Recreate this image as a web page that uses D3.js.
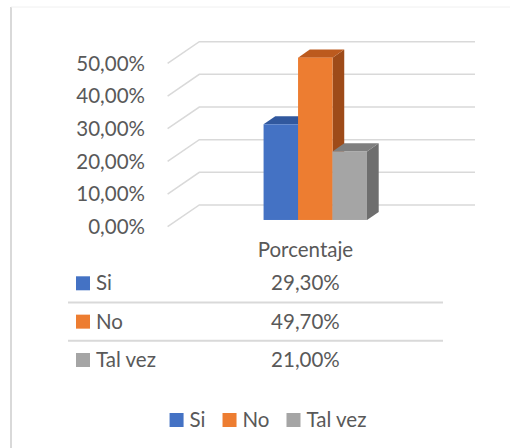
<!DOCTYPE html>
<html>
<head>
<meta charset="utf-8">
<script src="https://cdn.jsdelivr.net/npm/d3@7"></script>
<style>
  body { margin: 0; background: #fff; }
  text { font-family: Lato, "Open Sans", sans-serif; fill: #595959; font-size: 20.5px; }
</style>
</head>
<body>
<div id="chart"></div>
<script>
const categories = ["Porcentaje"];
const series = ["Si", "No", "Tal vez"];
const values = [0.293, 0.497, 0.21];
const colors = ["#4472C4", "#ED7D31", "#A5A5A5"];
const topColors = ["#31589E", "#BC5A1E", "#7F7F7F"];
const sideColors = ["#2D4E8A", "#9E4B19", "#6E6E6E"];
const yTicks = [0, 0.1, 0.2, 0.3, 0.4, 0.5];

const width = 510;
const height = 448;

// depth offset for the 3D floor (back -> front)
const depth = { x: -31.7, y: 21.7 };
const barZ = [0.32, 0.69];

const locale = d3.formatLocale({ decimal: ",", thousands: ".", grouping: [3], currency: ["", "€"] });
const pct = locale.format(".2%");

const svg = d3.select("#chart")
  .append("svg")
  .attr("width", width)
  .attr("height", height);

// chart border
svg.append("line")
  .attr("x1", 11).attr("x2", 11).attr("y1", 7).attr("y2", height)
  .attr("stroke", "#d9d9d9").attr("stroke-width", 2);
svg.append("line")
  .attr("x1", 11).attr("x2", width).attr("y1", 7).attr("y2", 7)
  .attr("stroke", "#f0f0f0").attr("stroke-width", 1);

const xScale = d3.scaleBand()
  .domain(categories)
  .range([199.3, 475])
  .paddingOuter(0.833);

const xSeries = d3.scaleBand()
  .domain(series)
  .range([0, xScale.bandwidth()]);

const yScale = d3.scaleLinear()
  .domain([0, 0.5])
  .range([205, 41.7]);

const proj = (wx, v, z) => [wx + depth.x * z, yScale(v) + depth.y * z];

// gridlines: side diagonal + back wall
const x0 = xScale.range()[0];
const x1 = xScale.range()[1];
svg.append("g")
  .selectAll("path")
  .data(yTicks)
  .join("path")
    .attr("d", t => d3.line()([proj(x0, t, 1), proj(x0, t, 0), proj(x1, t, 0)]))
    .attr("fill", "none")
    .attr("stroke", "#d9d9d9")
    .attr("stroke-width", 1.5);

// y tick labels (front plane)
svg.append("g")
  .selectAll("text")
  .data(yTicks)
  .join("text")
    .attr("x", 145)
    .attr("y", t => proj(x0, t, 1)[1])
    .attr("dy", "0.35em")
    .attr("text-anchor", "end")
    .text(t => pct(t));

// 3D bars
const bars = series.map((s, i) => ({ s, v: values[i], i }));
const barG = svg.append("g");
bars.forEach(d => {
  const bx0 = xScale(categories[0]) + xSeries(d.s);
  const bx1 = bx0 + xSeries.bandwidth();
  const [zb, zf] = barZ;
  const pts = (arr) => arr.map(p => proj(p[0], p[1], p[2]).join(",")).join(" ");
  // side face
  barG.append("polygon")
    .attr("points", pts([[bx1, d.v, zf], [bx1, d.v, zb], [bx1, 0, zb], [bx1, 0, zf]]))
    .attr("fill", sideColors[d.i]);
  // top face
  barG.append("polygon")
    .attr("points", pts([[bx0, d.v, zf], [bx1, d.v, zf], [bx1, d.v, zb], [bx0, d.v, zb]]))
    .attr("fill", topColors[d.i]);
  // front face
  const f0 = proj(bx0, d.v, zf);
  const f1 = proj(bx1, 0, zf);
  barG.append("rect")
    .attr("x", f0[0])
    .attr("y", f0[1])
    .attr("width", f1[0] - f0[0])
    .attr("height", f1[1] - f0[1])
    .attr("fill", colors[d.i]);
});

// data table
const colCenter = proj(xScale(categories[0]) + xScale.bandwidth() / 2, 0, 1)[0];
svg.append("text")
  .attr("x", colCenter)
  .attr("y", 250)
  .attr("dy", "0.35em")
  .attr("text-anchor", "middle")
  .text(categories[0]);

const rowY = d3.scalePoint().domain(series).range([283.3, 360]);
const rowStep = rowY.step();

svg.append("g")
  .selectAll("line")
  .data(series.slice(1))
  .join("line")
    .attr("x1", 68).attr("x2", 443)
    .attr("y1", s => rowY(s) - rowStep / 2)
    .attr("y2", s => rowY(s) - rowStep / 2)
    .attr("stroke", "#d9d9d9")
    .attr("stroke-width", 2);

const rows = svg.append("g")
  .selectAll("g")
  .data(bars)
  .join("g")
    .attr("transform", d => `translate(0, ${rowY(d.s)})`);

rows.append("rect")
  .attr("x", 76).attr("y", -7)
  .attr("width", 14).attr("height", 14)
  .attr("fill", d => colors[d.i]);

rows.append("text")
  .attr("x", 96)
  .attr("dy", "0.35em")
  .text(d => d.s);

rows.append("text")
  .attr("x", colCenter)
  .attr("dy", "0.35em")
  .attr("text-anchor", "middle")
  .text(d => pct(d.v));

// bottom legend
const legend = svg.append("g");
let lx = 0;
const items = legend.selectAll("g")
  .data(bars)
  .join("g");
items.append("rect")
  .attr("y", -7)
  .attr("width", 14).attr("height", 14)
  .attr("fill", d => colors[d.i]);
items.append("text")
  .attr("x", 20)
  .attr("dy", "0.35em")
  .text(d => d.s);
items.each(function () {
  const w = this.getBBox().width;
  d3.select(this).attr("transform", `translate(${lx}, 0)`);
  lx += w + 17;
});
const legendW = lx - 17;
legend.attr("transform", `translate(${268 - legendW / 2}, 420)`);
</script>
</body>
</html>
